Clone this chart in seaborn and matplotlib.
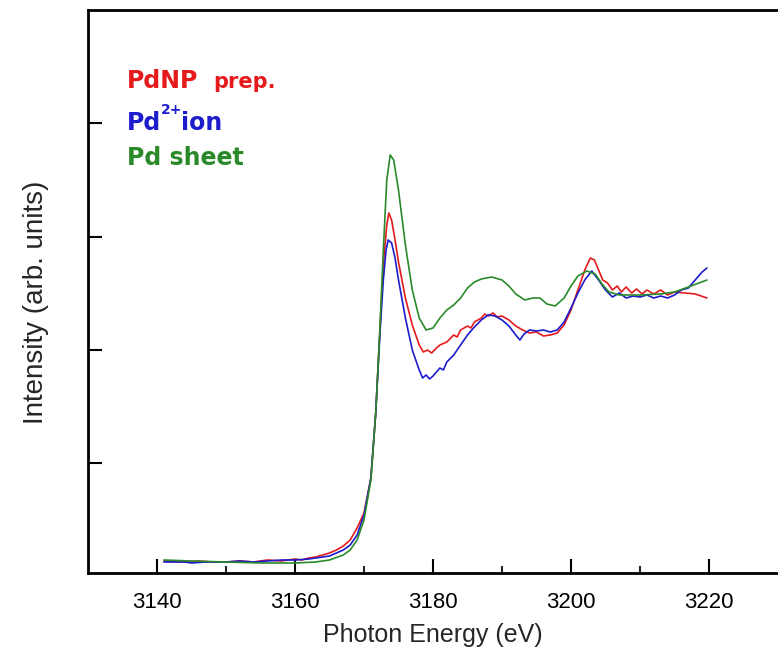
import pandas as pd
import matplotlib
matplotlib.use("Agg")
import matplotlib.pyplot as plt
import seaborn as sns

# Pd L3-edge XANES (heights in arb. units)
e_sheet = [3141, 3145, 3150, 3155, 3160, 3163, 3165, 3167, 3168, 3169, 3170, 3171, 3171.7, 3172.3,
           3172.8, 3173.3, 3173.8, 3174.3, 3175, 3176, 3177, 3178, 3179, 3180, 3181, 3182, 3183, 3184,
           3185, 3186, 3187, 3188.5, 3190, 3191, 3192, 3193.3, 3194.5, 3195.5, 3196.5, 3197.7, 3199,
           3200, 3201, 3202.3, 3203.5, 3204.5, 3205.5, 3207, 3210, 3213, 3215, 3217, 3219.7]
i_sheet = [13, 12, 11, 10, 10, 11, 13, 18, 23, 33, 53, 93, 160, 243,
           323, 393, 418, 413, 383, 328, 283, 255, 243, 245, 255, 263, 268, 275,
           285, 291, 294, 296, 293, 287, 279, 273, 275, 275, 269, 267, 275,
           287, 297, 302, 299, 289, 281, 278, 278, 279, 281, 286, 293]

e_np = [3141, 3144, 3146, 3148, 3150, 3152, 3154, 3156, 3158, 3160, 3161, 3162, 3163, 3164, 3165,
        3166, 3167, 3168, 3169, 3170, 3171, 3171.7, 3172.3, 3172.8, 3173.3, 3173.6, 3174, 3174.5,
        3175, 3176, 3177, 3178, 3178.6, 3179.2, 3179.8, 3180.5, 3181, 3182, 3183, 3183.5, 3184,
        3185, 3185.5, 3186, 3187, 3187.5, 3188, 3188.7, 3189.3, 3190, 3191, 3192, 3193, 3194,
        3195, 3196, 3197, 3198, 3199, 3200, 3201, 3202, 3202.8, 3203.4, 3204, 3204.6, 3205.3,
        3206, 3206.7, 3207.3, 3208, 3208.8, 3209.5, 3210.3, 3211, 3212, 3213, 3214, 3215,
        3216.5, 3218, 3219.7]
i_np = [12, 11, 12, 11, 11, 12, 11, 13, 12, 14, 13, 15, 16, 18, 20,
        23, 27, 33, 45, 60, 95, 160, 243, 308, 348, 360, 353, 333,
        311, 275, 248, 228, 221, 223, 220, 225, 228, 231, 238, 236, 243,
        247, 245, 251, 255, 259, 257, 260, 256, 257, 253, 247, 243, 240,
        241, 237, 238, 240, 248, 263, 283, 303, 315, 313, 303, 293, 290,
        283, 287, 281, 286, 280, 284, 279, 283, 279, 283, 278, 281,
        280, 279, 275]

e_ion = [3141, 3144, 3145, 3147, 3150, 3152, 3154, 3156, 3158, 3160, 3162, 3164, 3165, 3166,
         3167, 3168, 3169, 3170, 3171, 3171.7, 3172.3, 3172.8, 3173.2, 3173.5, 3174, 3174.5,
         3175, 3176, 3177, 3178, 3178.5, 3179, 3179.5, 3180, 3180.5, 3181, 3181.5, 3182, 3183,
         3184, 3185, 3186, 3187, 3188, 3189, 3190, 3191, 3192, 3192.6, 3193.2, 3194, 3195,
         3196, 3197, 3198, 3199, 3200, 3201, 3202, 3203, 3204, 3205, 3206, 3207, 3208, 3209,
         3210, 3211, 3212, 3213, 3214, 3215, 3216, 3217, 3218, 3219, 3219.7]
i_ion = [11, 11, 10, 11, 11, 12, 11, 12, 13, 13, 14, 16, 17, 20,
         23, 28, 38, 58, 95, 160, 238, 293, 323, 333, 330, 315,
         293, 255, 223, 203, 195, 198, 194, 197, 201, 205, 203, 211, 218,
         228, 238, 246, 253, 258, 257, 253, 247, 238, 233, 239, 243, 242,
         243, 241, 243, 251, 265, 280, 293, 302, 293, 283, 276, 280, 275, 277,
         276, 278, 275, 277, 275, 278, 283, 285, 293, 301, 305]

y_ticks = [110, 223, 336, 450]
x_major = [3140, 3160, 3180, 3200, 3220]
x_minor = [3150, 3170, 3190, 3210]

df = pd.concat([
    pd.DataFrame({"energy": e_np, "intensity": i_np, "sample": "PdNP prep."}),
    pd.DataFrame({"energy": e_ion, "intensity": i_ion, "sample": "Pd2+ ion"}),
    pd.DataFrame({"energy": e_sheet, "intensity": i_sheet, "sample": "Pd sheet"}),
])

colors = {"PdNP prep.": "#e41a1c", "Pd2+ ion": "#1c1ccc", "Pd sheet": "#2a8a2a"}

sns.set_style("ticks")
plt.rcParams["font.family"] = ["Liberation Sans", "DejaVu Sans"]

fig = plt.figure(figsize=(7.78, 6.57), dpi=100)
ax = fig.add_axes([88 / 778, 84 / 657, 1 - 88 / 778, 563 / 657])

sns.lineplot(data=df, x="energy", y="intensity", hue="sample", palette=colors,
             linewidth=1.2, sort=False, estimator=None, legend=False, ax=ax)

ax.set_xlim(3130, 3230)
ax.set_ylim(0, 563)
ax.set_xticks(x_major)
ax.set_xticks(x_minor, minor=True)
ax.set_yticks(y_ticks)
ax.set_yticklabels([])
ax.tick_params(axis="both", which="major", direction="in", length=10, width=1.5,
               labelsize=16, colors="black", pad=14)
ax.tick_params(axis="x", which="minor", direction="in", length=5, width=1.5)
ax.spines["right"].set_visible(False)
for s in ["left", "bottom", "top"]:
    ax.spines[s].set_linewidth(2)
    ax.spines[s].set_color("black")

ax.set_xlabel("Photon Energy (eV)", fontsize=18, labelpad=7)
ax.set_ylabel("Intensity (arb. units)", fontsize=20, labelpad=12)
ax.yaxis.set_label_coords(-0.056, 0.48)

# labels drawn as text, like the original
lab = dict(family="DejaVu Sans", fontweight="bold", transform=None)
H = 657
fig.text(127, H - 88, "PdNP", color=colors["PdNP prep."], fontsize=17, **lab)
fig.text(213, H - 88, "prep.", color=colors["PdNP prep."], fontsize=15, **lab)
fig.text(127, H - 130, "Pd", color=colors["Pd2+ ion"], fontsize=17, **lab)
fig.text(161, H - 114, "2+", color=colors["Pd2+ ion"], fontsize=10, **lab)
fig.text(181, H - 130, "ion", color=colors["Pd2+ ion"], fontsize=17, **lab)
fig.text(127, H - 165, "Pd sheet", color=colors["Pd sheet"], fontsize=17, **lab)

fig.savefig("out.png", dpi=100)
